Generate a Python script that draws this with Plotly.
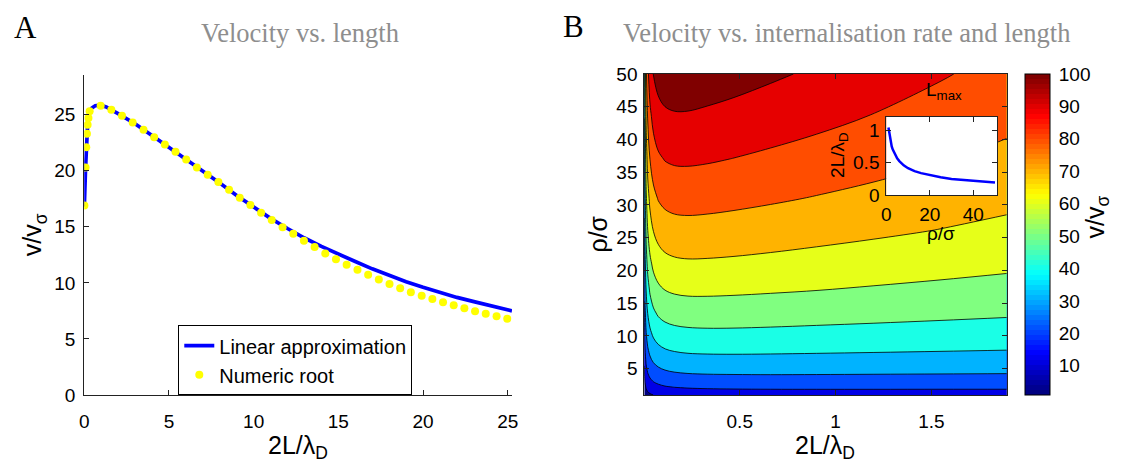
import plotly.graph_objects as go

W, H = 1122, 468
SANS = "Liberation Sans, Arial, sans-serif"
SERIF = "Liberation Serif, Times New Roman, serif"

# ---------------- Panel A data ----------------
lin_x = [0, 0.01, 0.08, 0.12, 0.16, 0.2, 0.25, 0.32, 0.45, 0.65, 0.95, 1.3, 2, 3, 4, 5, 6, 7, 8, 9,
         10, 11, 12, 13, 14, 15, 16, 17, 18, 19, 20, 21, 22, 23, 24, 25.25]
lin_y = [16.8, 16.95, 20.3, 22.1, 23.3, 24.1, 24.7, 25.3, 25.6, 25.8, 25.85, 25.7, 25.1, 24.2, 23.15,
         22.1, 21.0, 19.95, 18.9, 17.8, 16.75, 15.75, 14.85, 14.0, 13.25, 12.55, 11.9, 11.25, 10.65,
         10.1, 9.6, 9.12, 8.7, 8.32, 7.95, 7.5]
root_x = [0.01, 0.08, 0.12, 0.16, 0.2, 0.25, 0.32, 0.97, 1.6, 2.23, 2.86, 3.5, 4.13, 4.76, 5.39, 6.02,
          6.65, 7.29, 7.92, 8.55, 9.18, 9.81, 10.44, 11.07, 11.71, 12.34, 12.97, 13.6, 14.23, 14.86,
          15.49, 16.13, 16.76, 17.39, 18.02, 18.65, 19.28, 19.92, 20.55, 21.18, 21.81, 22.44, 23.07,
          23.7, 24.34, 24.97]
root_y = [16.9, 20.3, 22.1, 23.3, 24.1, 24.7, 25.3, 25.8, 25.45, 24.9, 24.3, 23.65, 23.0, 22.35, 21.7,
          21.0, 20.3, 19.65, 19.0, 18.3, 17.6, 16.95, 16.25, 15.6, 14.97, 14.38, 13.75, 13.19, 12.62,
          12.1, 11.62, 11.17, 10.72, 10.29, 9.89, 9.52, 9.15, 8.84, 8.55, 8.27, 7.99, 7.73, 7.47,
          7.25, 7.02, 6.79]
a_ticks = [0, 5, 10, 15, 20, 25]

# ---------------- Panel B data ----------------
L_grid = [0.002, 0.006, 0.012, 0.02, 0.032, 0.05, 0.075, 0.11, 0.16, 0.23, 0.33, 0.47, 0.66, 0.9,
          1.2, 1.55, 1.9]
rho_grid = [1, 1.5, 2.2, 3.2, 4.5, 6, 8, 10.5, 13.5, 17, 21, 26, 31, 37, 43.5, 50]
v_grid = [
    [3.1, 4.9, 6.4, 7.7, 8.9, 10.1, 11.2, 12.1, 12.8, 13.4, 13.9, 14.2, 14.4, 14.5, 14.6, 14.6, 14.6],
    [4.1, 6.5, 8.4, 10.0, 11.6, 13.1, 14.3, 15.4, 16.3, 16.9, 17.4, 17.7, 17.9, 18.0, 18.0, 18.0, 18.0],
    [5.3, 8.4, 10.9, 12.9, 14.8, 16.6, 18.0, 19.3, 20.2, 20.9, 21.4, 21.7, 21.9, 21.9, 21.9, 21.8, 21.8],
    [6.9, 10.8, 13.9, 16.4, 18.7, 20.8, 22.5, 23.9, 25.0, 25.7, 26.2, 26.4, 26.5, 26.5, 26.4, 26.3, 26.2],
    [8.8, 13.6, 17.4, 20.4, 23.1, 25.5, 27.5, 29.0, 30.1, 30.9, 31.3, 31.5, 31.6, 31.5, 31.3, 31.1, 30.9],
    [10.7, 16.5, 20.9, 24.4, 27.5, 30.3, 32.4, 34.1, 35.2, 36.0, 36.4, 36.5, 36.5, 36.3, 36.0, 35.7, 35.4],
    [13.0, 19.9, 25.1, 29.2, 32.8, 35.8, 38.2, 39.9, 41.1, 41.9, 42.2, 42.3, 42.1, 41.8, 41.4, 40.9, 40.4],
    [15.6, 23.8, 29.9, 34.5, 38.5, 42.0, 44.5, 46.3, 47.5, 48.2, 48.5, 48.5, 48.2, 47.7, 47.1, 46.5, 45.8],
    [18.4, 28.0, 35.0, 40.2, 44.7, 48.5, 51.2, 53.1, 54.3, 54.9, 55.1, 54.9, 54.5, 53.9, 53.1, 52.1, 51.2],
    [21.5, 32.5, 40.4, 46.2, 51.2, 55.2, 58.1, 60.0, 61.2, 61.8, 61.8, 61.5, 60.9, 60.1, 59.0, 57.8, 56.6],
    [24.8, 37.2, 46.1, 52.5, 57.9, 62.2, 65.2, 67.2, 68.3, 68.8, 68.7, 68.3, 67.5, 66.4, 65.0, 63.4, 61.9],
    [28.6, 42.6, 52.6, 59.7, 65.5, 70.1, 73.2, 75.2, 76.3, 76.6, 76.4, 75.7, 74.7, 73.3, 71.6, 69.6, 67.5],
    [32.1, 47.7, 58.5, 66.2, 72.5, 77.3, 80.5, 82.4, 83.4, 83.7, 83.3, 82.5, 81.2, 79.5, 77.4, 74.9, 72.4],
    [36.1, 53.4, 65.2, 73.5, 80.2, 85.2, 88.5, 90.4, 91.3, 91.4, 90.9, 89.8, 88.2, 86.2, 83.6, 80.6, 77.6],
    [40.2, 59.1, 72.0, 80.8, 87.9, 93.1, 96.4, 98.3, 99.1, 99.1, 98.3, 97.0, 95.1, 92.7, 89.6, 86.0, 82.4],
    [44.0, 64.5, 78.3, 87.7, 95.1, 100.4, 103.8, 105.6, 106.3, 106.1, 105.2, 103.7, 101.4, 98.6, 95.0, 90.8, 86.6],
]
contour_levels = dict(start=10, end=100, size=10)
colorbar_ticks = [10, 20, 30, 40, 50, 60, 70, 80, 90, 100]
b_xticks = [0.5, 1, 1.5]
b_yticks = [5, 10, 15, 20, 25, 30, 35, 40, 45, 50]

inset_x = [1, 1.5, 2, 2.5, 3, 4, 5, 6, 8, 10, 13, 16, 20, 25, 30, 35, 40, 45, 50]
inset_y = [1.04, 0.92, 0.82, 0.75, 0.70, 0.62, 0.565, 0.525, 0.46, 0.415, 0.37, 0.34, 0.31, 0.275,
           0.25, 0.235, 0.22, 0.205, 0.195]


def jet(t):
    r = min(max(1.5 - abs(4 * t - 3), 0), 1)
    g = min(max(1.5 - abs(4 * t - 2), 0), 1)
    b = min(max(1.5 - abs(4 * t - 1), 0), 1)
    return "rgb(%d,%d,%d)" % (round(r * 255), round(g * 255), round(b * 255))


jet_cont = [[0, "#000080"], [0.125, "#0000ff"], [0.375, "#00ffff"], [0.625, "#ffff00"],
            [0.875, "#ff0000"], [1, "#800000"]]
jet64 = []
for i in range(64):
    col = jet(i / 63)
    jet64.append([i / 64, col])
    jet64.append([(i + 1) / 64, col])


def px(x, y):
    return x / W, 1 - y / H


fig = go.Figure()
fig.add_trace(go.Scatter(x=lin_x, y=lin_y, mode="lines", name="Linear approximation",
                         line=dict(color="#0000ff", width=3.7), xaxis="x", yaxis="y"))
fig.add_trace(go.Scatter(x=root_x, y=root_y, mode="markers", name="Numeric root",
                         marker=dict(color="#ffff00", size=8, line=dict(width=0)),
                         xaxis="x", yaxis="y"))
fig.add_trace(go.Contour(x=L_grid, y=rho_grid, z=v_grid, xaxis="x2", yaxis="y2", showscale=False,
                         autocontour=False, colorscale=jet_cont,
                         contours=dict(coloring="fill", **contour_levels),
                         line=dict(color="black", width=0.8, smoothing=1),
                         showlegend=False, hoverinfo="skip"))
fig.add_trace(go.Scatter(x=[-5], y=[-5], mode="markers", xaxis="x2", yaxis="y2", showlegend=False,
                         marker=dict(color=[50], cmin=1, cmax=100, colorscale=jet64, size=1,
                                     showscale=True,
                                     colorbar=dict(x=1030 / W, xanchor="left", y=1 - 403 / H,
                                                   yanchor="bottom", len=336 / H, lenmode="fraction",
                                                   thickness=25, thicknessmode="pixels",
                                                   outlinewidth=1, outlinecolor="black",
                                                   ticks="outside", ticklen=5,
                                                   tickcolor="rgba(0,0,0,0)",
                                                   tickvals=colorbar_ticks,
                                                   tickfont=dict(family=SANS, size=19, color="black"),
                                                   xpad=0, ypad=0, borderwidth=0))))
fig.add_trace(go.Scatter(x=inset_x, y=inset_y, mode="lines", line=dict(color="#0000ff", width=2.5),
                         xaxis="x3", yaxis="y3", showlegend=False))

axcommon = dict(showgrid=False, zeroline=False, showline=True, linecolor="#222222", linewidth=1,
                ticks="inside", ticklen=5, tickcolor="#222222",
                tickfont=dict(family=SANS, size=19, color="black"))

fig.update_layout(
    width=W, height=H, margin=dict(l=0, r=0, t=0, b=0),
    paper_bgcolor="white", plot_bgcolor="white",
    xaxis=dict(domain=[80 / W, 512 / W], range=[0, 25.25], tickvals=a_ticks,
               anchor="y", ticklabelstandoff=9, **axcommon),
    yaxis=dict(domain=[1 - 403 / H, 1 - 68 / H], range=[0, 28.55], tickvals=a_ticks,
               anchor="x", ticklabelstandoff=4, **axcommon),
    xaxis2=dict(domain=[645.6 / W, 1011.5 / W], range=[0.002, 1.892], tickvals=b_xticks,
                ticktext=["0.5", "1", "1.5"], anchor="y2", mirror="ticks", ticklabelstandoff=9,
                **axcommon),
    yaxis2=dict(domain=[1 - 403 / H, 1 - 67 / H], range=[1, 50], tickvals=b_yticks,
                anchor="x2", mirror="ticks", ticklabelstandoff=2, **axcommon),
    xaxis3=dict(domain=[890 / W, 1002 / W], range=[0, 51], tickvals=[0, 20, 40], anchor="y3",
                mirror="ticks", ticklabelstandoff=2, **axcommon),
    yaxis3=dict(domain=[1 - 194 / H, 1 - 112 / H], range=[0, 1.2], tickvals=[0, 0.5, 1],
                ticktext=["0", "0.5", "1"], anchor="x3", mirror="ticks", ticklabelstandoff=2,
                **axcommon),
    legend=dict(x=175 / W, y=1 - 330 / H, xanchor="left", yanchor="top", bgcolor="white",
                bordercolor="black", borderwidth=1, font=dict(family=SANS, size=20, color="black"),
                tracegroupgap=0),
    showlegend=True,
)

fig.add_shape(type="rect", xref="x3 domain", yref="y3 domain", x0=0, x1=1, y0=0, y1=1,
              fillcolor="white", line=dict(width=0), layer="below")


def ann(text, x, y, size, family=SANS, color="black", angle=0):
    ax, ay = px(x, y)
    fig.add_annotation(text=text, x=ax, y=ay, xref="paper", yref="paper", showarrow=False,
                       xanchor="center", yanchor="middle", textangle=angle, borderpad=0,
                       font=dict(family=family, size=size, color=color))


ann("A", 20.5, 18, 31, SERIF)
ann("B", 574.5, 17.5, 31, SERIF)
ann("Velocity vs. length", 298, 24, 26.5, SERIF, "#8e8e8e")
ann("Velocity vs. internalisation rate and length", 850, 24, 26.5, SERIF, "#8e8e8e")
ann("2L/λ<sub>D</sub>", 296, 458, 25)
ann("v/v<sub>σ</sub>", 30, 235, 25, angle=-90)
ann("2L/λ<sub>D</sub>", 828.5, 458, 25)
ann("ρ/σ", 599, 235, 25, angle=-90)
ann("v/v<sub>σ</sub>", 1103, 217, 25, angle=-90)
ann("L<sub>max</sub>", 948, 85, 19)
ann("2L/λ<sub>D</sub>", 842, 152, 19, angle=-90)
ann("ρ/σ", 945, 234, 19)

fig.write_html("out.html")
